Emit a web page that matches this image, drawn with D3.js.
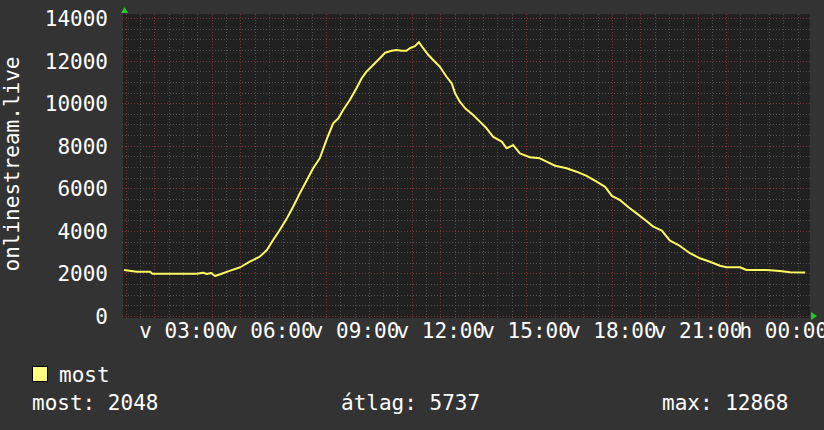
<!DOCTYPE html>
<html>
<head>
<meta charset="utf-8">
<script src="https://cdn.jsdelivr.net/npm/d3@7"></script>
<style>
  html, body { margin: 0; padding: 0; background: #333333; }
  svg { display: block; }
  text { font-family: "DejaVu Sans Mono", monospace; fill: #ffffff; }
</style>
</head>
<body>
<svg id="chart" width="824" height="430"></svg>
<script>
// ---- data (minutes since 00:00 of day "v") ----
const minutes = [56, 83, 111, 115, 209, 222, 230, 239, 247, 258, 279, 300, 320, 341, 356, 369, 383, 398, 411, 425,
  440, 453, 467, 481, 495, 506, 516, 530, 544, 555, 565, 579, 593, 604, 618, 628, 639, 649, 656, 667,
  675, 684, 695, 705, 719, 733, 744, 751, 761, 772, 789, 803, 817, 831, 849, 859, 873, 887, 908, 929,
  943, 961, 985, 1006, 1027, 1048, 1066, 1080, 1097, 1115, 1132, 1150, 1167, 1185, 1202, 1223, 1244, 1265, 1286, 1307,
  1321, 1349, 1363, 1405, 1433, 1454, 1486];
const values = [2160, 2080, 2080, 1990, 1990, 2030, 1970, 2020, 1880, 1960, 2130, 2290, 2550, 2790, 3100, 3570, 4040, 4590, 5130, 5760,
  6390, 6940, 7410, 8270, 9050, 9290, 9680, 10150, 10700, 11170, 11480, 11790, 12110, 12370, 12460, 12500, 12460, 12460, 12580, 12680,
  12868, 12580, 12260, 12030, 11710, 11240, 10930, 10460, 10070, 9760, 9440, 9130, 8820, 8420, 8190, 7880, 8030, 7640, 7460, 7410,
  7250, 7060, 6940, 6780, 6580, 6310, 6070, 5640, 5450, 5110, 4820, 4510, 4200, 4010, 3540, 3290, 2950, 2710, 2550, 2360,
  2290, 2290, 2160, 2160, 2110, 2050, 2048];
const timeDomain = [56, 1496];
const yTicks = [0, 2000, 4000, 6000, 8000, 10000, 12000, 14000];
const xTickMinutes = [180, 360, 540, 720, 900, 1080, 1260, 1440];
const xTickLabels = ["v 03:00", "v 06:00", "v 09:00", "v 12:00", "v 15:00", "v 18:00", "v 21:00", "h 00:00"];
const yTitle = "onlinestream.live";
const seriesName = "most";
const statLabels = ["most: 2048", "átlag: 5737", "max: 12868"];

// ---- layout ----
const svg = d3.select("#chart");
const L = 124, R = 810, T = 18, B = 316;
const x = d3.scaleLinear().domain(timeDomain).range([L, R]);
const y = d3.scaleLinear().domain([0, 14000]).range([B, T]);

svg.append("rect").attr("x", 0).attr("y", 0).attr("width", 824).attr("height", 430).attr("fill", "#333333");
svg.append("rect").attr("x", 123).attr("y", 14).attr("width", R - 123).attr("height", 318 - 14).attr("fill", "#212121");

const grid = svg.append("g").attr("shape-rendering", "crispEdges");
// horizontal grid
d3.range(0, 14001, 500).forEach(v => {
  const major = v % 2000 === 0;
  grid.append("line")
    .attr("x1", L - 2).attr("x2", R).attr("y1", Math.round(y(v)) + 0.5).attr("y2", Math.round(y(v)) + 0.5)
    .attr("stroke", major ? "#7a3434" : "#505050").attr("stroke-width", 1).attr("stroke-dasharray", "1,2");
});
// vertical grid
d3.range(60, 1497, 30).filter(m => m >= timeDomain[0]).forEach(m => {
  const major = m % 60 === 0;
  grid.append("line")
    .attr("x1", Math.round(x(m)) + 0.5).attr("x2", Math.round(x(m)) + 0.5).attr("y1", 14).attr("y2", B + 2)
    .attr("stroke", major ? "#7a3434" : "#505050").attr("stroke-width", 1).attr("stroke-dasharray", "1,2");
});

// axis labels via d3 axes
const yAxis = d3.axisLeft(y).tickValues(yTicks).tickSize(0).tickPadding(0).tickFormat(d3.format("d"));
const gy = svg.append("g").attr("transform", "translate(108,0)").call(yAxis);
gy.select(".domain").remove();
gy.selectAll("text").attr("font-size", 21).attr("font-family", "DejaVu Sans Mono").attr("fill", "#fff").attr("dy", "0.36em");

const xAxis = d3.axisBottom(x).tickValues(xTickMinutes).tickSize(0).tickPadding(0)
  .tickFormat((d, i) => xTickLabels[i]);
const gx = svg.append("g").attr("transform", "translate(0,322)").call(xAxis);
gx.select(".domain").remove();
gx.selectAll("text").attr("font-size", 21).attr("font-family", "DejaVu Sans Mono").attr("fill", "#fff").attr("dy", "0.75em");

// arrows
svg.append("path").attr("d", `M${L - 3},13 L${L + 4},13 L${L + 0.5},7 Z`).attr("fill", "#22cc22");
svg.append("path").attr("d", `M811,312 L811,320 L817,316 Z`).attr("fill", "#22cc22");

// line
const data = minutes.map((m, i) => ({ m, v: values[i] }));
svg.append("path").datum(data)
  .attr("fill", "none").attr("stroke", "#fcfc62").attr("stroke-width", 2).attr("stroke-linejoin", "round")
  .attr("d", d3.line().x(d => x(d.m)).y(d => y(d.v)));

// y title
svg.append("text").attr("transform", "translate(19,164) rotate(-90)")
  .attr("text-anchor", "middle").attr("font-size", 21).text(yTitle);

// legend
svg.append("rect").attr("x", 32.5).attr("y", 366.5).attr("width", 15).attr("height", 15)
  .attr("fill", "#ffff80").attr("stroke", "#000").attr("stroke-width", 1);
svg.append("text").attr("x", 59).attr("y", 382).attr("font-size", 21).text(seriesName);
const statX = [32, 341, 662];
statLabels.forEach((s, i) => {
  svg.append("text").attr("x", statX[i]).attr("y", 410).attr("font-size", 21).text(s);
});
</script>
</body>
</html>
